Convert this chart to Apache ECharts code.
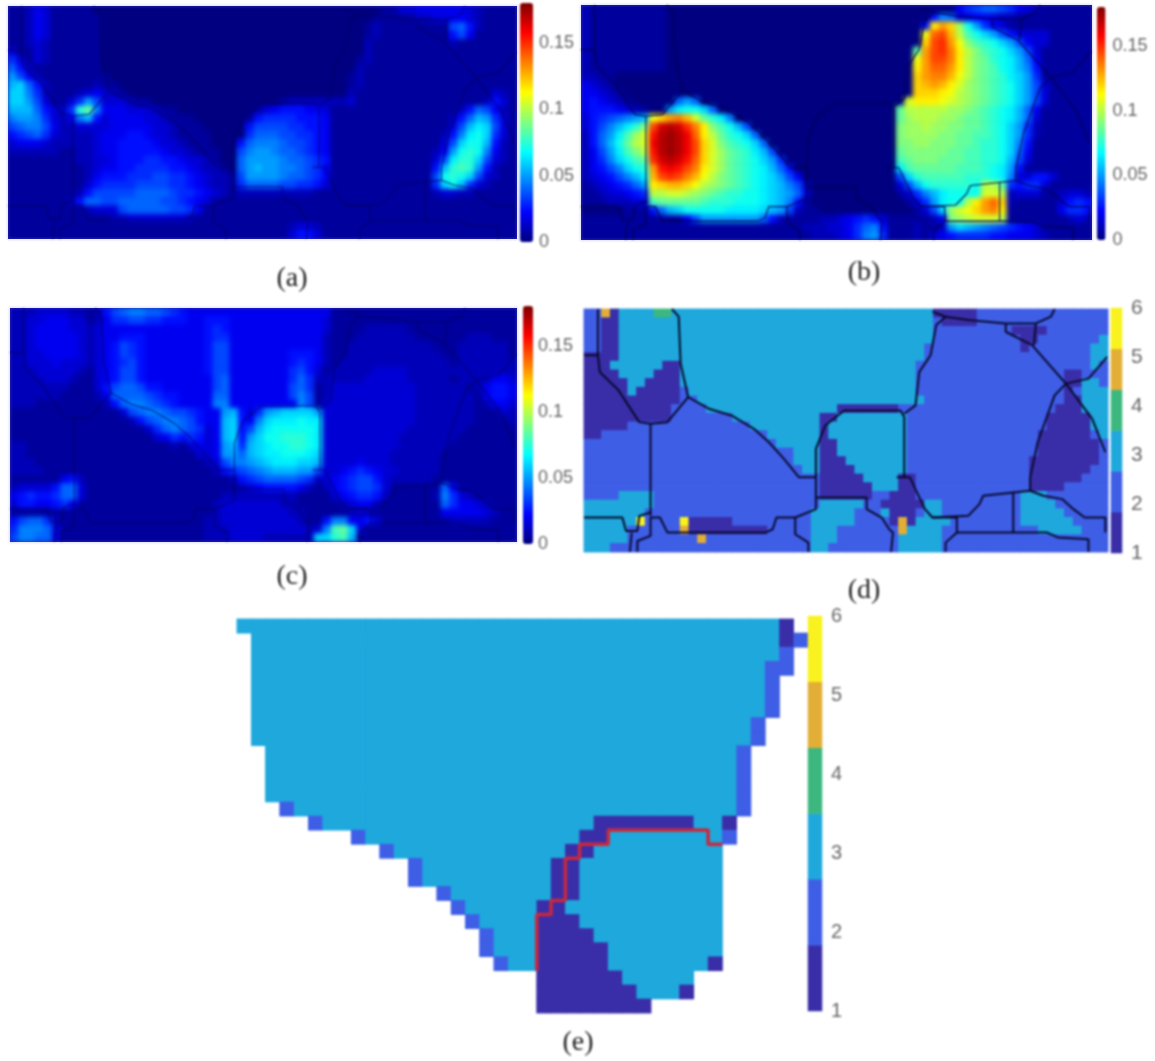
<!DOCTYPE html>
<html><head><meta charset="utf-8">
<script src="https://cdn.jsdelivr.net/npm/echarts@6/dist/echarts.min.js"></script>
<style>html,body{margin:0;padding:0;background:#fff}
#maps,#c{position:absolute;left:0;top:0;width:1155px;height:1061px}
#maps{filter:blur(2.4px)}
#c{filter:blur(0.9px)}</style>
</head><body><div id="maps"></div><div id="c"></div>
<script>
// Strain maps: one base-36 character per cell, value = digit * 0.005
const strainA = [
"1124311111 0000000000 0000000000 0000000000 0000113344 4444321111",
"1124311111 1000000000 0000000000 0000000000 0001111122 3344321111",
"1124311111 1000000000 0000000000 0000000000 0012111111 1178521111",
"1124311111 1000000000 0000000000 0000000000 0012111111 1157411111",
"1123211111 1000000000 0000000000 0000000000 0021111111 1121111111",
"3113211111 1000000000 0000000000 0000000000 0021111111 1111111111",
"6313211111 1000000000 0000000000 0000000000 0121111111 1111111111",
"8521111111 1000000000 0000000000 0000000000 0211111111 1111111111",
"a742111111 1100000000 0000000000 0000000000 1211111111 1111111111",
"bc85211111 2110000000 0000000000 0000000000 1211111111 1111111111",
"cc96211123 4321000000 0000000000 0000000000 2111111111 1111111321",
"cca731136a 7333211000 0000000000 0012222222 3111111111 1111112531",
"bbb853 26fh 9444333211 0000000001 3455544311 1111111111 1112587421",
"9aa963 249b 5344443321 1100000015 6666555411 1111111111 1125 8ba631",
"789974 2233 3344444332 1110000057 7776655411 1111111111 1137bdc731",
"567863 2222 3444554332 1111000068 8877665411 1111111111 1259dec631",
"344432 2222 3445555433 2111000589 9987765411 1111111111 137ceeb521",
"222222 1122 3445555543 3211100 79a a988765411 1111111111 24aefe9421",
"111111 1122 3345556655 4332100 8aa aa98876511 1111111111 37dffc7321",
"111111 1112 3445566665 5432210 8ab aa99876411 1111111111 5bfgfa5211",
"111111 1112 4555666776 6543221 7aa aa98876411 1111111111 7efec73211",
"111111 1113 5666677776 6543221 688 8877665311 1111111111 6ceb632111",
"111111 1125 7777788887 6654321 222 2222221111 1111111111 2332211111",
"111111 1258 8778888877 6543111 111 1111111111 1111111111 1111111111",
"111111 1112 3337888887 7641111 111 1111111111 1111111111 1111111111",
"111111 1111 1122333333 3211111 111 1111111111 1111111111 1111111111",
"111111 1111 1111111111 1111111 111 1112332111 1111111111 1111111111",
"111111 1111 1111111111 1111111 111 1113553111 1111111111 1111111111"];
const strainB = [
"2111111111 0000000000 0000000000 0000000000 0000467887 6432111111",
"2111111111 0000000000 0000000000 0000000000 0598334432 2111111111",
"2111111111 0000000000 0000000000 0000000000 5nqojea643 1111111111",
"2111111111 0000000000 0000000000 0000000000 mstpkgeca7 5333311111",
"2111111111 0000000000 0000000000 0000000000 otuqmigfec a743311111",
"2111111111 0000000000 0000000000 000000000h qturnkigfe ca73111111",
"2111111111 0000000000 0000000000 000000000m qttrnkihfe db84111111",
"2111111111 0000000000 0000000000 000000000n qssqnkihge db95111111",
"2211000000 0000000000 0000000000 000000000o qrrpmkihgf dca6111111",
"4321000000 0000000000 0000000000 000000000o pqpnljihgf eca7311111",
"4432100000 0000000000 0000000000 000000000o oonmkjihgf eca7311111",
"4543210000 08a8000000 0000000000 00000000ln nnmlkjihgf eca7311111",
"4555432100 adeec80000 0000000000 0000000hkk kkkjjihgfe db84111111",
"356789abmo qrplhfd900 0000000000 0000000hjk kkjjihhgfe db83111111",
"3579bdfitx yxurnigeb7 0000000000 0000000ijj kjjiihhgfe ca62111111",
"258adgjlvy zywsnkhfec 8000000000 0000000ijj jjiihhggfe ca62111111",
"258behklwy zywtoligfe c800000000 0000000iij jiiihhgffe c951111111",
"247adgikvy zywtoljhgf db70000000 0000000hii iiihhggffe c841111111",
"2469ceghux yxvsoljhgf eca6000000 0000000ghi iihhhggffe b731111111",
"24579cefqv wvtrnljhgf edb8500000 0000000dgh hhhhgggfed a511111111",
"234579bdpt utrpmkihgf edca740000 00000007cf gggggfffed 9335531111",
"12345 68ano ppomkjihgf edcb972000 00000003 7b efffffekkh 6566311111",
"1123345 6kk llkjihgffe edcba83000 00000001 36 9bdeeeellk 2333112332",
"1112223 3gh hhhhgfffee edcb951000 0000000013 6adeeknqso 2111113565",
"0000011 158 bceeeeeddd dcba721100 0000000001 37cjlmoqrn 1111114665",
"1111111111 1147aaaaaa a852111122 3456531111 124ijklllk 1111111232",
"1111111111 1111111111 1111112223 3468951112 112acba987 6543111111",
"1111111111 1111111111 1111111222 3469a61112 1345666655 4443211111"];
const strainC = [
"2223333221 2578998876 5444444444 4444444411 1111111111 1111111111",
"2233444331 2466776655 5445554444 4444444311 1111111111 1111111111",
"2234444332 3444444444 4445654444 4444444311 1122222111 1111111111",
"2234444432 3445554444 4445664444 4444444211 1222222211 1111222111",
"2234444432 3457654444 4445774444 4444444211 2222222222 1112222221",
"2233444432 3457654444 4445774444 4445554211 2222222222 2112222221",
"2233343332 3456754444 4445774444 4445654212 2222222222 2212222222",
"2223333321 3457754444 4445774444 4446753122 2223333222 2222222222",
"2222333211 3457754444 4444784444 4446862222 2233333222 2212222443",
"2222222111 3578875544 4444784444 4447861233 3333333322 2222124554",
"2222221111 2488887655 4444884444 4447971233 3333333322 2222214554",
"2221111111 1258998765 4444994444 4444971333 3333333322 2222212443",
"1111111111 1113789987 765 44ab53 6abccc ca333 3333333322 2222211132",
"1111111111 1111257899 875 44bc54 9cddde dd333 3333333322 2222211112",
"1111111111 1111113689 876 34bc57 bdeeee ed333 3333333222 2222111111",
"1111111111 1111111346 565 34bc5a cee fff ed333 3333332222 2221111111",
"2211111111 1111111112 134 34ab6b cdeeff ed333 3333332222 2211111111",
"2211111111 1111111111 113 34aa8b cddeee dc333 3333322222 2111111111",
"2221111111 1111111111 111 237 99ab cdddcc b333 3433322222 2111111111",
"2222111111 1111111111 111 125 6789 abbbaa 7334 5654332222 2111111111",
"1111114521 1111111111 111 111 2567 8888762345 6775322222 1111111111",
"2333358831 1111111111 111 111 1234 5555421245 6776311111 1841111111",
"4565568831 1111111111 111 112 2222 2222111134 5665211111 2963211111",
"3554456411 1111111111 111 123 3333 3322111112 3442111111 1864432111",
"1111111111 1111111111 111 123 3333 3332211111 2221111111 1444443211",
"5788621111 1111111111 111 223 3333 3333211599 4453111111 1122222111",
"6999831111 1111111111 111 222 3333 33333239gh c311111111 1111111111",
"7998831111 1111111111 111 222 3333 222222ccfg b111111111 1111111111"];
// Deformation system index per cell, values 1-6
const systemD = [
"2251333344 3333333333 3333333333 3333333333 1111122222 2222222222",
"2211333333 3333333333 3333333333 3333333333 2111122222 2222222222",
"2211333333 3333333333 3333333333 3333333333 2222222221 1112222222",
"2211333333 3333333333 3333333333 3333333333 2222222222 1122222223",
"2211333333 3333333333 3333333333 3333333332 2222222222 1222222233",
"1111333333 3333333333 3333333333 3333333332 2222222222 2222222233",
"1113333331 1333333333 3333333333 3333333322 2222222222 2222222232",
"1111333311 1333333333 3333333333 3333333322 2222222222 2222211222",
"1111133111 1333333333 3333333333 3333333322 2222222222 2222211332",
"1111131111 1233333333 3333333333 3333333322 2222222222 2222212333",
"1111111111 1223333333 3333333333 3333333332 2222222222 2222211333",
"1111111111 2222333333 3333333331 1111112222 2222222222 2222111333",
"1111111111 2222222333 3333333113 3333333222 2222222222 2221111133",
"1111122222 2222222223 3333333133 3333333222 2222222222 2221111133",
"1122222222 2222222222 2333333133 3333333222 2222222222 2211111123",
"2222222222 2222222222 2233333113 3333333222 2222222222 2211111112",
"2222222222 2222222222 2222333113 3333333222 2222222222 2211111112",
"2222222222 2222222222 2222333111 3333333222 2222222222 2111111112",
"2222222222 2222222222 2222233111 1333333222 2222222222 2111111122",
"2222222222 2222222222 2222222111 1133331122 2222222222 2111111222",
"2222222222 2222222222 2222222111 1113331122 2222222222 2111122222",
"2222333322 2222222222 2222222111 1112211122 2222222222 3332222222",
"3333333322 2222222222 2222222333 3322111113 3222222222 3333222222",
"3333333222 2222222222 2222223333 3222311123 3222222222 3333322222",
"3333336222 2611111222 2222223333 3222215133 3322222222 3333332222",
"3333322222 2511111111 1222223332 2222225333 3222222222 2233333222",
"3333322222 2225222222 2222223332 2222223333 3222222222 2222222222",
"3332222222 2222222222 2222223322 2222223333 3222222222 2222222222"];
// Panel (e) crop of the same map; '.' is an empty cell
const systemE = [
"3333333333 3333333333 3333333333 333333331.",
".333333333 3333333333 3333333333 3333333312",
".333333333 3333333333 3333333333 333333332.",
".333333333 3333333333 3333333333 333333322.",
".333333333 3333333333 3333333333 33333332..",
".333333333 3333333333 3333333333 33333332..",
".333333333 3333333333 3333333333 33333332..",
".333333333 3333333333 3333333333 3333332...",
".333333333 3333333333 3333333333 3333332...",
"..33333333 3333333333 3333333333 333332....",
"..33333333 3333333333 3333333333 333332....",
"..33333333 3333333333 3333333333 333332....",
"..33333333 3333333333 3333333333 333332....",
"...2333333 3333333333 3333333333 333332....",
".....23333 3333333333 3333311111 11331.....",
"........23 3333333333 3333113333 33332.....",
".......... 2333333333 3331133333 3333......",
".......... ..23333333 3311333333 3333......",
".......... ..23333333 3311333333 3333......",
".......... ....233333 3311333333 3333......",
".......... .....23333 3113333333 3333......",
".......... ......2333 3111333333 3333......",
".......... .......233 3111133333 3333......",
".......... .......233 3111113333 3333......",
".......... ........23 3111113333 3331......",
".......... .......... .111111333 33........",
".......... .......... .111111133 31........",
".......... .......... .11111111. .........."];
// Grain boundaries of the micrograph, in image units
const grainBoundaries = [
[[38,180],[75,180],[80,230],[130,285],[185,380],[215,385],[260,380],[315,305],[295,205],[290,65],[272,42]],
[[75,42],[75,180]],
[[215,385],[215,660]],
[[38,665],[140,665],[150,705],[180,705],[185,660],[215,650]],
[[315,305],[370,340],[430,360],[490,400],[530,440],[570,490],[610,545],[655,545],[655,605],[790,605],[790,640],[830,665],[850,700],[860,710],[855,768]],
[[655,545],[655,460],[680,390],[730,345],[880,345],[890,365],[890,545]],
[[870,545],[905,545],[945,640],[965,665],[1030,665],[1030,710],[1000,740],[1000,768]],
[[965,665],[1060,660],[1090,625],[1100,600],[1180,590],[1225,585],[1225,545],[1245,440],[1290,300],[1320,265]],
[[890,355],[920,330],[930,230],[960,180],[975,90],[1000,65],[965,50]],
[[1000,65],[1060,75],[1160,85],[1240,85],[1280,65],[1290,42]],
[[1160,85],[1160,110],[1230,150],[1320,265],[1390,370],[1425,470]],
[[1240,85],[1235,150]],
[[1320,265],[1380,250],[1430,185]],
[[655,605],[655,640],[600,665],[600,715],[635,740],[635,768]],
[[600,665],[550,665],[540,700],[520,710],[260,710],[240,665],[215,665],[215,720],[180,735],[180,768]],
[[165,710],[160,768]],
[[1030,710],[1270,710],[1300,725],[1380,730],[1380,768]],
[[1180,590],[1180,710]],
[[1225,585],[1260,600],[1310,610],[1340,640],[1370,665],[1425,665],[1425,710]]
];
// Boundary of the selected grain in panel (e), in cell units
const redBoundary = [[21,25],[21,21],[22,21],[22,20],[23,20],[23,17],[24,17],[24,16],[26,16],[26,15],[33,15],[33,16],[34,16]];
const jetColors = ['#000080','#0000ff','#0080ff','#00ffff','#80ff80','#ffff00','#ff8000','#ff0000','#800000'];
const parulaColors = ['#3a2ea8','#3f5ee6','#1fa8dc','#3cb87f','#e2ae35','#f9f21e'];
const systemLevels = [1,2,3,4,5,6];
const panelLabels = ['(a)','(b)','(c)','(d)','(e)'];

function clean(rows){return rows.map(r=>r.replace(/ /g,''));}
function cells(rows,scale){
  const out=[];
  clean(rows).forEach((r,y)=>{for(let x=0;x<r.length;x++){const c=r[x];if(c==='.')continue;
    const v=parseInt(c,36);if(isNaN(v))continue;out.push([x,y,scale(v)]);}});
  return out;
}
const toStrain=v=>+(v*0.005).toFixed(3), toIdx=v=>v;
const edge='rgba(130,130,255,.55)';
const panels=[
 {rows:strainA,rect:[8,6,509,233],cb:[520,3,13,239],label:[292,265],line:'#000060',lo:.6,lw:1.3,margin:6,edge,font:18},
 {rows:strainB,rect:[581,5,511,235],cb:[1097,7,8.5,233],label:[864,259],line:'#000050',lo:.8,lw:1.3,margin:7,edge,font:18},
 {rows:strainC,rect:[10,308,507,234],cb:[523,306,10,238],label:[292,563],line:'#000060',lo:.6,lw:1.3,margin:5,edge,font:18},
 {rows:systemD,rect:[584,309,524,243],cb:[1111,308,11,245],label:[864,577],line:'#08082a',lo:1,lw:2,margin:9,disc:true,font:21},
 {rows:systemE,rect:[237,619,571,394],cb:[808,616,14,395],label:[578,1029],disc:true,cols:40,margin:9,red:true,font:20}
];
// Smooth strain maps live in a lower, softened chart; everything else sits above
const low={grid:[],xAxis:[],yAxis:[],series:[]};
const grid=[],xAxis=[],yAxis=[],series=[],visualMap=[],title=[];
const discIdx=[];
function hiddenCat(n,g,inv){return {type:'category',gridIndex:g,show:false,inverse:!!inv,data:Array.from({length:n},(_,i)=>i)};}
panels.forEach((p,i)=>{
  const g=grid.length;
  grid.push({left:p.rect[0],top:p.rect[1],width:p.rect[2],height:p.rect[3],
    show:!!p.edge,borderColor:p.edge||'transparent',borderWidth:1,backgroundColor:'transparent'});
  const nc=p.cols||60,nr=p.rows.length;
  if(p.disc){
    const xc=xAxis.length;xAxis.push(hiddenCat(nc,g));
    const yc=yAxis.length;yAxis.push(hiddenCat(nr,g,true));
    const cellData=cells(p.rows,toIdx);
    // painted twice so anti-aliased cell seams do not show through
    [0,1].forEach(()=>{discIdx.push(series.length);
      series.push({type:'heatmap',xAxisIndex:xc,yAxisIndex:yc,data:cellData,animation:false,silent:true,emphasis:{disabled:true}});});
  } else {
    const lg=low.grid.length;
    low.grid.push({left:p.rect[0],top:p.rect[1],width:p.rect[2],height:p.rect[3]});
    low.xAxis.push(hiddenCat(nc,lg));
    low.yAxis.push(hiddenCat(nr,lg,true));
    low.series.push({type:'heatmap',xAxisIndex:lg,yAxisIndex:lg,data:cells(p.rows,toStrain),animation:false,silent:true,emphasis:{disabled:true}});
    visualMap.push({type:'continuous',seriesIndex:[],dimension:2,min:0,max:0.18,inRange:{color:jetColors},calculable:false,hoverLink:false,
      left:p.cb[0],top:p.cb[1],itemWidth:p.cb[2],itemHeight:p.cb[3],padding:0,text:null,showLabel:false,realtime:false});
  }
  const xv=xAxis.length, yv=yAxis.length;
  if(p.red){
    xAxis.push({type:'value',gridIndex:g,show:false,min:0,max:40});
    yAxis.push({type:'value',gridIndex:g,show:false,min:0,max:28,inverse:true});
    series.push({type:'line',xAxisIndex:xv,yAxisIndex:yv,data:redBoundary,showSymbol:false,silent:true,animation:false,lineStyle:{color:'#c9283e',width:3.5},z:5});
  } else {
    xAxis.push({type:'value',gridIndex:g,show:false,min:38,max:1432});
    yAxis.push({type:'value',gridIndex:g,show:false,min:42,max:768,inverse:true});
    grainBoundaries.forEach(b=>series.push({type:'line',xAxisIndex:xv,yAxisIndex:yv,data:b,showSymbol:false,silent:true,animation:false,lineStyle:{color:p.line,width:p.lw,opacity:p.lo},z:5}));
  }
  const cg=grid.length;
  grid.push({left:p.cb[0],top:p.cb[1],width:p.cb[2],height:p.cb[3]});
  const labelStyle={show:true,color:'#666',fontFamily:'Liberation Sans',fontSize:p.font,margin:p.margin};
  if(p.disc){
    const xb=xAxis.length;xAxis.push(hiddenCat(1,cg));
    const yb=yAxis.length;yAxis.push({type:'category',gridIndex:cg,show:false,data:systemLevels});
    discIdx.push(series.length);
    series.push({type:'heatmap',xAxisIndex:xb,yAxisIndex:yb,data:systemLevels.map((v,k)=>[0,k,v]),animation:false,silent:true,emphasis:{disabled:true}});
    yAxis.push({type:'value',gridIndex:cg,position:'right',min:1,max:6,interval:1,axisLine:{show:false},axisTick:{show:false},splitLine:{show:false},axisLabel:labelStyle});
  } else {
    xAxis.push({type:'value',gridIndex:cg,show:false,min:0,max:1});
    yAxis.push({type:'value',gridIndex:cg,position:'right',min:0,max:0.18,interval:0.05,axisLine:{show:false},axisTick:{show:false},splitLine:{show:false},
      axisLabel:Object.assign({showMaxLabel:false},labelStyle)});
  }
  title.push({text:panelLabels[i],left:p.label[0],top:p.label[1],textAlign:'center',padding:0,textStyle:{fontFamily:'Liberation Serif',fontSize:28,fontWeight:'normal',color:'#222'}});
});
visualMap.push({type:'piecewise',show:false,seriesIndex:discIdx,dimension:2,pieces:systemLevels.map((v,k)=>({value:v,color:parulaColors[k]}))});

const mapsEl=document.getElementById('maps');
mapsEl.style.clipPath='path("'+panels.filter(p=>!p.disc).map(p=>`M${p.rect[0]} ${p.rect[1]}h${p.rect[2]}v${p.rect[3]}h${-p.rect[2]}z`).join(' ')+'")';
const lowChart=echarts.init(mapsEl,null,{renderer:'canvas'});
lowChart.setOption({animation:false,backgroundColor:'#000090',grid:low.grid,xAxis:low.xAxis,yAxis:low.yAxis,series:low.series,
  visualMap:{type:'continuous',show:false,seriesIndex:low.series.map((_,i)=>i),dimension:2,min:0,max:0.18,inRange:{color:jetColors}}});
const chart=echarts.init(document.getElementById('c'),null,{renderer:'canvas'});
chart.setOption({animation:false,backgroundColor:'transparent',title,grid,xAxis,yAxis,visualMap,series});
</script>
</body></html>
